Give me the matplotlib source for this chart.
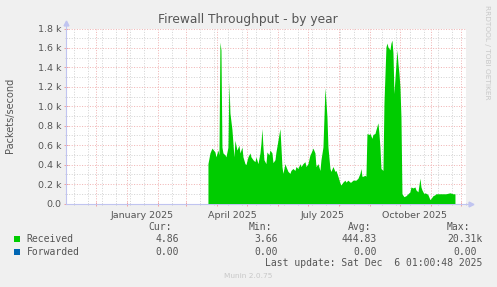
import matplotlib
matplotlib.use("Agg")
import matplotlib.pyplot as plt
import matplotlib.dates as mdates
from matplotlib.patches import Rectangle
import pandas as pd

# --- data (packets/second) ---
received_dates = [
    "2025-03-23", "2025-03-25", "2025-03-27", "2025-03-30", "2025-03-31", "2025-04-02",
    "2025-04-03", "2025-04-04", "2025-04-05", "2025-04-06", "2025-04-07", "2025-04-09",
    "2025-04-10", "2025-04-12", "2025-04-13", "2025-04-14", "2025-04-16", "2025-04-17",
    "2025-04-18", "2025-04-19", "2025-04-21", "2025-04-23", "2025-04-24", "2025-04-26",
    "2025-04-27", "2025-04-29", "2025-04-30", "2025-05-02", "2025-05-04", "2025-05-05",
    "2025-05-07", "2025-05-09", "2025-05-10", "2025-05-12", "2025-05-14", "2025-05-15",
    "2025-05-16", "2025-05-17", "2025-05-18", "2025-05-20", "2025-05-21", "2025-05-23",
    "2025-05-24", "2025-05-26", "2025-05-27", "2025-05-29", "2025-05-30", "2025-06-01",
    "2025-06-03", "2025-06-04", "2025-06-05", "2025-06-06", "2025-06-08", "2025-06-09",
    "2025-06-11", "2025-06-13", "2025-06-14", "2025-06-16", "2025-06-18", "2025-06-19",
    "2025-06-21", "2025-06-23", "2025-06-24", "2025-06-26", "2025-06-28", "2025-06-29",
    "2025-07-01", "2025-07-03", "2025-07-04", "2025-07-06", "2025-07-08", "2025-07-09",
    "2025-07-11", "2025-07-13", "2025-07-14", "2025-07-16", "2025-07-18", "2025-07-19",
    "2025-07-20", "2025-07-21", "2025-07-23", "2025-07-24", "2025-07-26", "2025-07-28",
    "2025-07-29", "2025-07-31", "2025-08-02", "2025-08-03", "2025-08-05", "2025-08-07",
    "2025-08-08", "2025-08-10", "2025-08-12", "2025-08-13", "2025-08-15", "2025-08-17",
    "2025-08-18", "2025-08-20", "2025-08-22", "2025-08-23", "2025-08-24", "2025-08-25",
    "2025-08-27", "2025-08-28", "2025-08-29", "2025-08-31", "2025-09-01", "2025-09-03",
    "2025-09-04", "2025-09-06", "2025-09-07", "2025-09-09", "2025-09-10", "2025-09-11",
    "2025-09-12", "2025-09-14", "2025-09-15", "2025-09-17", "2025-09-18", "2025-09-19",
    "2025-09-21", "2025-09-22", "2025-09-23", "2025-09-24", "2025-09-25", "2025-09-27",
    "2025-09-28", "2025-09-29", "2025-09-30", "2025-10-01", "2025-10-02", "2025-10-03",
    "2025-10-05", "2025-10-07", "2025-10-09", "2025-10-11", "2025-10-12", "2025-10-14",
    "2025-10-16", "2025-10-17", "2025-10-19", "2025-10-21", "2025-10-22", "2025-10-23",
    "2025-10-25", "2025-10-26", "2025-10-28", "2025-10-29", "2025-10-31", "2025-11-01",
    "2025-11-03", "2025-11-05", "2025-11-06", "2025-11-10", "2025-11-13", "2025-11-16",
    "2025-11-20", "2025-11-23", "2025-11-25",
]
received = [
    410, 520, 570, 530, 480, 550,
    500, 1660, 1580, 580, 520, 500,
    480, 580, 1250, 930, 760, 620,
    480, 650, 550, 600, 520, 580,
    480, 410, 400, 480, 520, 480,
    450, 430, 480, 410, 520, 620,
    770, 580, 450, 410, 530, 500,
    550, 520, 420, 450, 530, 650,
    770, 580, 380, 310, 410, 380,
    330, 310, 340, 360, 340, 380,
    360, 410, 380, 410, 430, 380,
    410, 500, 520, 570, 520, 380,
    410, 340, 450, 580, 1190, 1050,
    890, 580, 360, 330, 380, 330,
    340, 280, 210, 190, 220, 240,
    220, 240, 220, 220, 240, 240,
    240, 260, 310, 360, 280, 280,
    290, 280, 720, 710, 720, 670,
    710, 720, 760, 830, 720, 580,
    360, 340, 1030, 1610, 1650, 1610,
    1580, 1650, 1680, 1550, 1130, 1440,
    1580, 1440, 1340, 1200, 890, 100,
    70, 80, 100, 120, 170, 160,
    170, 140, 120, 260, 170, 140,
    100, 110, 100, 90, 40, 50,
    80, 90, 100, 100, 100, 100,
    110, 100, 100,
]

legend_names = ["Received", "Forwarded"]
legend_colors = ["#00CC00", "#0066B3"]
legend_cur = ["4.86", "0.00"]
legend_min = ["3.66", "0.00"]
legend_avg = ["444.83", "0.00"]
legend_max = ["20.31k", "0.00"]

x_labels = ["January 2025", "April 2025", "July 2025", "October 2025"]
x_label_dates = ["2025-01-16", "2025-04-16", "2025-07-16", "2025-10-16"]

W, H = 497, 287
BG = "#F0F0F0"


def fx(px):
    return px / W


def fy(py):
    return 1 - py / H


def kfmt(v, pos=None):
    """rrdtool-style y labels"""
    return "0.0" if v == 0 else "%.1f k" % (v / 1000)


fig = plt.figure(figsize=(W / 100, H / 100), dpi=100, facecolor=BG)
ax = fig.add_axes([fx(66), fy(203.5), fx(400), 175 / H])
ax.set_facecolor("white")

start = pd.Timestamp("2024-11-01 01:00")
end = pd.Timestamp("2025-12-06 01:00")
ax.set_xlim(start, end)
ax.set_ylim(0, 1800)

dates = pd.to_datetime(received_dates)
ax.fill_between(dates, received, 0, color=legend_colors[0], lw=0, zorder=3)

# grid: months in red, every second week in grey
ax.xaxis.set_major_locator(mdates.MonthLocator())
ax.xaxis.set_minor_locator(matplotlib.ticker.FixedLocator(
    mdates.date2num(pd.date_range("2024-11-09", end, freq="14D"))))
ax.xaxis.set_major_formatter(matplotlib.ticker.NullFormatter())
ax.yaxis.set_major_locator(matplotlib.ticker.MultipleLocator(200))
ax.yaxis.set_minor_locator(matplotlib.ticker.MultipleLocator(100))
ax.yaxis.set_major_formatter(matplotlib.ticker.FuncFormatter(kfmt))

ax.grid(which="minor", color="#d4d4d4", lw=0.72, ls=(0, (1, 1.6)), zorder=1)
ax.grid(which="major", color="#f0b4b4", lw=0.72, ls=(0, (1, 1.6)), zorder=2)
ax.set_axisbelow(True)

ax.tick_params(which="major", axis="both", length=3, width=0.7, direction="inout",
               color="#f0a0a0", labelsize=6.8, labelcolor="#555555", pad=2)
ax.tick_params(which="minor", axis="both", length=2, width=0.7, direction="inout",
               color="#cccccc")

for s in ["top", "right"]:
    ax.spines[s].set_visible(False)
for s in ["left", "bottom"]:
    ax.spines[s].set_color("#c0c4f0")
    ax.spines[s].set_linewidth(0.8)

# axis arrows
ax.plot([1.0, 1.012], [0, 0], transform=ax.transAxes, color="#c0c4f0", lw=0.8, clip_on=False)
ax.plot([1.012], [0], marker=">", ms=3.5, color="#c0c4f0", transform=ax.transAxes, clip_on=False)
ax.plot([0, 0], [1.0, 1.03], transform=ax.transAxes, color="#c0c4f0", lw=0.8, clip_on=False)
ax.plot([0], [1.03], marker="^", ms=3.5, color="#c0c4f0", transform=ax.transAxes, clip_on=False)

for lab, d in zip(x_labels, x_label_dates):
    ax.text(pd.Timestamp(d), -0.045, lab, transform=ax.get_xaxis_transform(),
            ha="center", va="top", fontsize=6.8, color="#555555")

fig.text(fx(248), fy(19), "Firewall Throughput - by year", ha="center", va="center",
         fontsize=8.8, color="#555555")
fig.text(fx(10), fy(115), "Packets/second", rotation=90, ha="center", va="center",
         fontsize=7, color="#555555")
fig.text(fx(487), fy(52), "RRDTOOL / TOBI OETIKER", rotation=270, ha="center", va="center",
         fontsize=5.3, color="#c8c8c8")

# legend block
mono = dict(family="DejaVu Sans Mono", fontsize=7, color="#555555", va="center")
col_right = [172, 272, 371, 470]
for r, h in zip(col_right, ["Cur:", "Min:", "Avg:", "Max:"]):
    fig.text(fx(r), fy(227.3), h, ha="right", **mono)

rows_y = [239.3, 251.7]
for i, yy in enumerate(rows_y):
    fig.patches.append(Rectangle((fx(14), fy(yy + 3)), fx(6), 6 / H, transform=fig.transFigure,
                                 facecolor=legend_colors[i], edgecolor="none"))
    fig.text(fx(26.5), fy(yy), legend_names[i], ha="left", **mono)
    for r, v in zip([179, 278, 377], [legend_cur[i], legend_min[i], legend_avg[i]]):
        fig.text(fx(r), fy(yy), v, ha="right", **mono)
    fig.text(fx(482.7 if i == 0 else 476.7), fy(yy), legend_max[i], ha="right", **mono)

fig.text(fx(482.7), fy(263.3), "Last update: Sat Dec  6 01:00:48 2025", ha="right", **mono)
fig.text(fx(248), fy(276), "Munin 2.0.75", ha="center", va="center", fontsize=5.3, color="#c8c8c8")

fig.savefig("out.png", dpi=100, facecolor=BG)
